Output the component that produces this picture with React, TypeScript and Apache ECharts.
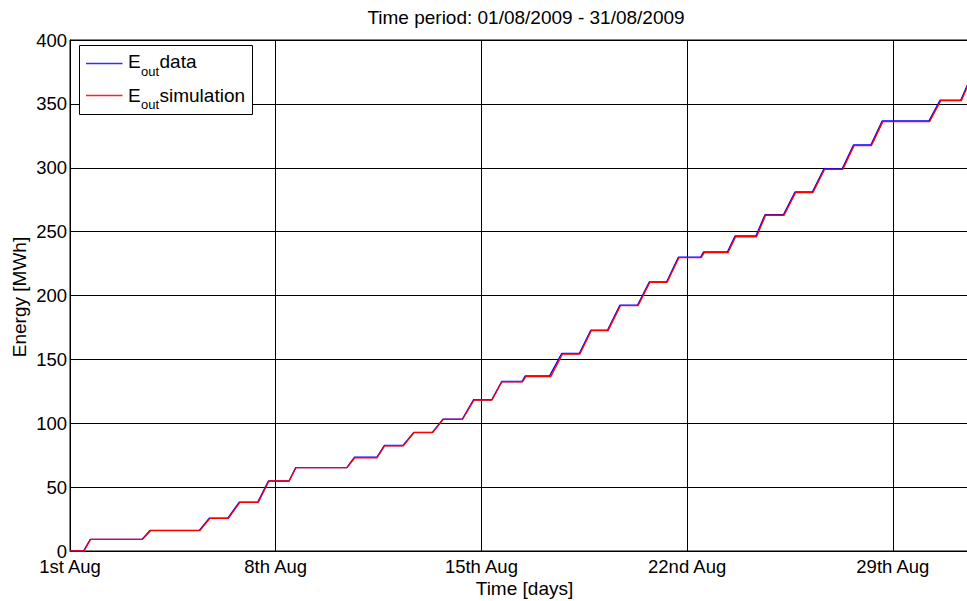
import React, { useEffect, useRef } from "react";
import * as echarts from "echarts";

// x in days since 1st Aug 00:00, y in MWh
const xTickLabels = ["1st Aug", "8th Aug", "15th Aug", "22nd Aug", "29th Aug"];

const dataEnergy: [number, number][] = [
  [0, 0], [0.46, 0], [0.69, 9.1], [2.45, 9.1], [2.72, 16.1], [4.4, 16.1], [4.74, 25.8],
  [5.37, 25.8], [5.76, 38.3], [6.39, 38.3], [6.75, 54.8], [7.45, 54.8], [7.68, 65.3],
  [9.42, 65.3], [9.68, 73.4], [10.44, 73.4], [10.7, 82.6], [11.33, 82.6], [11.7, 92.9],
  [12.33, 92.9], [12.69, 103.3], [13.35, 103.3], [13.73, 118.4], [14.35, 118.4], [14.69, 132.7],
  [15.38, 132.7], [15.49, 137.1], [16.32, 137.1], [16.73, 154.6], [17.33, 154.6], [17.72, 172.8],
  [18.29, 172.8], [18.71, 192.4], [19.31, 192.4], [19.71, 210.6], [20.3, 210.6], [20.7, 230],
  [21.46, 230], [21.56, 234.1], [22.37, 234.1], [22.63, 246.6], [23.34, 246.6], [23.65, 263.3],
  [24.28, 263.3], [24.67, 281], [25.26, 281], [25.66, 299.3], [26.28, 299.3], [26.66, 317.8],
  [27.25, 317.8], [27.64, 336.7], [29.23, 336.7], [29.61, 352.9], [30.31, 352.9], [30.68, 372.3],
  [31, 372.3],
];

const simEnergy: [number, number][] = [
  [0, 0], [0.48, 0], [0.7, 9.1], [2.47, 9.1], [2.74, 15.9], [4.42, 15.9], [4.76, 25.6],
  [5.39, 25.6], [5.78, 38.1], [6.41, 38.1], [6.77, 54.8], [7.46, 54.8], [7.69, 65.2],
  [9.43, 65.2], [9.69, 73], [10.45, 73], [10.71, 82.4], [11.34, 82.4], [11.71, 92.6],
  [12.34, 92.6], [12.7, 103.1], [13.36, 103.1], [13.75, 118.2], [14.36, 118.2], [14.7, 132.5],
  [15.4, 132.5], [15.51, 136.5], [16.36, 136.5], [16.76, 154.2], [17.35, 154.2], [17.74, 172.5],
  [18.31, 172.5], [18.73, 192], [19.33, 192], [19.73, 210.3], [20.32, 210.3], [20.72, 229.6],
  [21.48, 229.6], [21.58, 233.5], [22.39, 233.5], [22.65, 246], [23.36, 246], [23.67, 262.8],
  [24.3, 262.8], [24.69, 280.5], [25.28, 280.5], [25.68, 298.8], [26.3, 298.8], [26.68, 317.3],
  [27.27, 317.3], [27.66, 336.1], [29.25, 336.1], [29.63, 352.5], [30.33, 352.5], [30.7, 372],
  [31, 372],
];

const FONT = "'Liberation Sans', Arial, sans-serif";

export default function App() {
  const ref = useRef<HTMLDivElement>(null);
  useEffect(() => {
    if (!ref.current) return;
    const chart = echarts.init(ref.current, undefined, { renderer: "svg" });
    const txt = (text: string, x: number, y: number, size: number, z: number) => ({
      type: "text",
      x,
      y,
      z,
      style: { text, fontFamily: FONT, fontSize: size, fill: "#000", verticalAlign: "middle" },
    });
    chart.setOption({
      animation: false,
      backgroundColor: "#fff",
      textStyle: { fontFamily: FONT, color: "#000" },
      grid: {
        left: 70,
        top: 40,
        right: 9,
        height: 511,
        show: true,
        borderColor: "#000",
        borderWidth: 1,
        backgroundColor: "transparent",
      },
      xAxis: {
        type: "value",
        min: 0,
        max: 31,
        interval: 7,
        axisLine: { show: true, onZero: false, lineStyle: { color: "#000", width: 1 } },
        axisTick: { show: true, inside: true, length: 5, lineStyle: { color: "#000" } },
        splitLine: { show: true, lineStyle: { color: "#000", width: 1 } },
        axisLabel: {
          color: "#000",
          fontFamily: FONT,
          fontSize: 18.5,
          margin: 6,
          showMaxLabel: false,
          formatter: (v: number) => {
            const i = Math.round(v / 7);
            return Math.abs(v - i * 7) < 1e-6 && xTickLabels[i] ? xTickLabels[i] : "";
          },
        },
      },
      yAxis: {
        type: "value",
        min: 0,
        max: 400,
        interval: 50,
        axisLine: { show: true, lineStyle: { color: "#000", width: 1 } },
        axisTick: { show: true, inside: true, length: 5, lineStyle: { color: "#000" } },
        splitLine: { show: true, lineStyle: { color: "#000", width: 1 } },
        axisLabel: { color: "#000", fontFamily: FONT, fontSize: 18.5, margin: 3 },
      },
      series: [
        {
          name: "data",
          type: "line",
          data: dataEnergy,
          showSymbol: false,
          lineStyle: { color: "#0000ff", width: 1.3 },
          z: 2,
        },
        {
          name: "simulation",
          type: "line",
          data: simEnergy,
          showSymbol: false,
          lineStyle: { color: "#ff0000", width: 1.3 },
          z: 3,
        },
      ],
      graphic: [
        {
          type: "text",
          x: 526,
          y: 17.7,
          style: {
            text: "Time period: 01/08/2009 - 31/08/2009",
            fontFamily: FONT,
            fontSize: 19,
            fill: "#000",
            align: "center",
            verticalAlign: "middle",
          },
        },
        {
          type: "text",
          x: 524.5,
          y: 588.5,
          style: {
            text: "Time [days]",
            fontFamily: FONT,
            fontSize: 19,
            fill: "#000",
            align: "center",
            verticalAlign: "middle",
          },
        },
        {
          type: "text",
          x: 19,
          y: 297,
          rotation: Math.PI / 2,
          style: {
            text: "Energy [MWh]",
            fontFamily: FONT,
            fontSize: 19,
            fill: "#000",
            align: "center",
            verticalAlign: "middle",
          },
        },
        {
          type: "rect",
          z: 100,
          shape: { x: 79.5, y: 45.5, width: 173, height: 69 },
          style: { fill: "#ffffff", stroke: "#000000", lineWidth: 1 },
        },
        {
          type: "rect",
          z: 101,
          shape: { x: 86, y: 62.75, width: 36.5, height: 1.5 },
          style: { fill: "#3030ff", stroke: null },
        },
        {
          type: "rect",
          z: 101,
          shape: { x: 86, y: 94.75, width: 36.5, height: 1.5 },
          style: { fill: "#ff2020", stroke: null },
        },
        txt("E", 128, 61.7, 19, 101),
        txt("out", 141, 71.5, 13, 101),
        txt("data", 159.5, 61.7, 19, 101),
        txt("E", 128, 95.1, 19, 101),
        txt("out", 141, 104.9, 13, 101),
        txt("simulation", 159.5, 95.1, 19, 101),
      ],
    });
    return () => chart.dispose();
  }, []);
  return (
    <div style={{ position: "fixed", left: 0, top: 0, width: 967, height: 601, overflow: "hidden", background: "#fff" }}>
      <div ref={ref} style={{ width: 990, height: 601 }} />
    </div>
  );
}
